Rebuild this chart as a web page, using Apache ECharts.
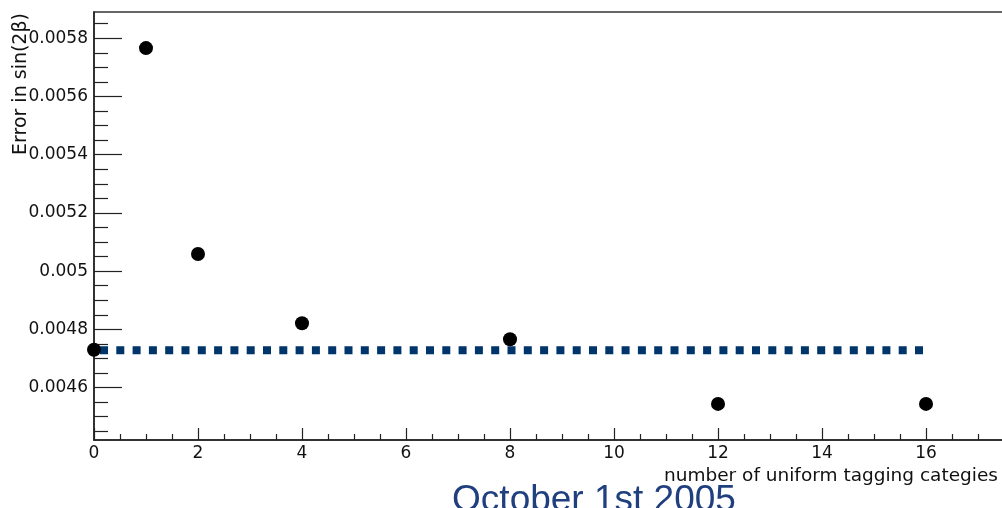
<!DOCTYPE html>
<html>
<head>
<meta charset="utf-8">
<script src="https://cdn.jsdelivr.net/npm/echarts@6/dist/echarts.min.js"></script>
<style>
  html, body { margin: 0; padding: 0; background: #fff; }
  #chart { width: 1002px; height: 508px; }
</style>
</head>
<body>
<div id="chart"></div>
<script>
// number of tagging categories and error on sin(2beta)
const categories = [0, 1, 2, 4, 8, 12, 16];
const errors = [0.00473, 0.005766, 0.005059, 0.004821, 0.004766, 0.004544, 0.004544];

// reference level (dotted line)
const refX = [0, 16];
const refLevel = 0.004728;

// y axis tick labels
const yTickLabels = ['0.0046', '0.0048', '0.005', '0.0052', '0.0054', '0.0056', '0.0058'];
const yTickValues = yTickLabels.map(Number);
const yMinorStep = 0.00005;

const yMin = 0.00442;
const yMax = 0.00589;

// minor ticks between/around the labelled ones
const yMinorValues = [];
for (let i = 1; i <= 3; i++) yMinorValues.push(+(yTickValues[0] - i * yMinorStep).toFixed(6));
yTickValues.forEach(v => {
  for (let i = 1; i <= 3; i++) {
    const m = +(v + i * yMinorStep).toFixed(6);
    if (m < yMax) yMinorValues.push(m);
  }
});

const chart = echarts.init(document.getElementById('chart'), null, { renderer: 'canvas' });

const axisColor = '#222';
const labelFont = 'DejaVu Sans';

const option = {
  animation: false,
  backgroundColor: '#fff',
  grid: {
    left: 94,
    top: 12,
    right: -28,
    bottom: 68,
    outerBoundsMode: 'none',
    containLabel: false,
    show: true,
    borderColor: '#333',
    borderWidth: 1.5,
    backgroundColor: 'transparent'
  },
  xAxis: {
    type: 'value',
    min: 0,
    max: 18,
    interval: 2,
    axisLine: { show: true, onZero: false, lineStyle: { color: axisColor, width: 1.5 } },
    axisTick: { show: true, inside: true, length: 12, lineStyle: { color: axisColor, width: 1.2 } },
    minorTick: { show: true, splitNumber: 4, length: 6, lineStyle: { color: axisColor, width: 1.2 } },
    axisLabel: { fontFamily: labelFont, fontSize: 17, color: '#111', margin: 5 },
    splitLine: { show: false }
  },
  yAxis: [
    {
      type: 'value',
      position: 'left',
      min: yMin,
      max: yMax,
      axisLine: { show: true, onZero: false, lineStyle: { color: axisColor, width: 1.5 } },
      axisTick: {
        show: true, inside: true, length: 28,
        customValues: yTickValues,
        lineStyle: { color: axisColor, width: 1.2 }
      },
      axisLabel: {
        fontFamily: labelFont, fontSize: 17, color: '#111', margin: 6,
        customValues: yTickValues,
        formatter: v => {
          const i = yTickValues.findIndex(t => Math.abs(t - v) < 1e-9);
          return i >= 0 ? yTickLabels[i] : '';
        }
      },
      splitLine: { show: false }
    },
    {
      type: 'value',
      position: 'left',
      min: yMin,
      max: yMax,
      axisLine: { show: false },
      axisTick: {
        show: true, inside: true, length: 14,
        customValues: yMinorValues,
        lineStyle: { color: axisColor, width: 1.2 }
      },
      axisLabel: { show: false },
      splitLine: { show: false }
    }
  ],
  series: [
    {
      type: 'line',
      data: refX.map(x => [x, refLevel]),
      symbol: 'none',
      lineStyle: {
        color: '#00356b',
        width: 8,
        type: [8, 8.3],
        dashOffset: 10.3,
        cap: 'butt'
      },
      z: 2
    },
    {
      type: 'scatter',
      data: categories.map((c, i) => [c, errors[i]]),
      symbol: 'circle',
      symbolSize: 14,
      itemStyle: { color: '#000', opacity: 1 },
      z: 3
    }
  ],
  graphic: [
    {
      type: 'text',
      x: 21,
      y: 84,
      rotation: Math.PI / 2,
      style: {
        text: 'Error in sin(2β)',
        fontFamily: labelFont,
        fontSize: 19,
        fill: '#111',
        align: 'center',
        verticalAlign: 'middle'
      },
      z: 10
    },
    {
      type: 'text',
      x: 998,
      y: 476,
      style: {
        text: 'number of uniform tagging categies',
        fontFamily: labelFont,
        fontSize: 18.5,
        fill: '#111',
        align: 'right',
        verticalAlign: 'middle'
      },
      z: 10
    },
    {
      type: 'text',
      x: 594,
      y: 501,
      style: {
        text: 'October 1st 2005',
        fontFamily: 'Liberation Sans',
        fontSize: 37,
        fill: '#1f3f7f',
        align: 'center',
        verticalAlign: 'middle'
      },
      z: 1
    }
  ]
};

chart.setOption(option);
</script>
</body>
</html>
